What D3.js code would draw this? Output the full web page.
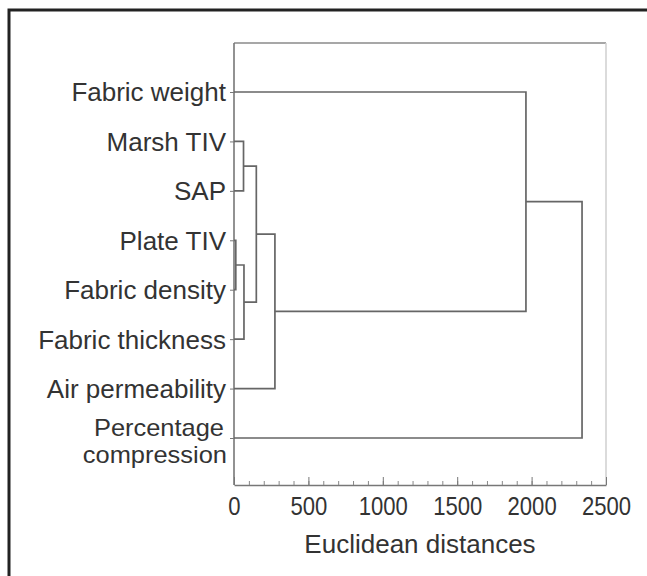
<!DOCTYPE html>
<html>
<head>
<meta charset="utf-8">
<script src="https://cdn.jsdelivr.net/npm/d3@7"></script>
<style>
  html, body { margin: 0; padding: 0; background: #fff; }
  svg { display: block; font-family: "Liberation Sans", Arial, sans-serif; }
</style>
</head>
<body>
<script>
// leaves, top to bottom
const labels = ["Fabric weight", "Marsh TIV", "SAP", "Plate TIV", "Fabric density",
                "Fabric thickness", "Air permeability", "Percentage compression"];

// linkage: merge k creates node 8 + k from mergeLeft[k] and mergeRight[k]
const mergeLeft   = [3, 1, 8, 9, 11, 0, 13];
const mergeRight  = [4, 2, 5, 10, 6, 12, 7];
const mergeHeight = [12, 64, 67, 150, 275, 1962, 2339];

const tickValues = [0, 500, 1000, 1500, 2000, 2500];
const axisTitle = "Euclidean distances";

const width = 647, height = 576;
const margin = {left: 234, right: 41, top: 43, bottom: 91};

const svg = d3.select("body").append("svg")
    .attr("width", width)
    .attr("height", height);

// outer frame (cropped on right and bottom)
svg.append("rect")
    .attr("x", 9).attr("y", 10)
    .attr("width", 800).attr("height", 800)
    .attr("fill", "none")
    .attr("stroke", "#222")
    .attr("stroke-width", 3);

const x = d3.scaleLinear()
    .domain([0, 2500])
    .range([margin.left, width - margin.right]);

const y = d3.scalePoint()
    .domain(d3.range(labels.length))
    .range([92, 438]);

// node positions
const nodes = labels.map((l, i) => ({h: 0, y: y(i)}));
mergeLeft.forEach((a, k) => {
  const b = mergeRight[k];
  nodes.push({h: mergeHeight[k], y: (nodes[a].y + nodes[b].y) / 2, a, b});
});

const plotTop = margin.top, plotBottom = height - margin.bottom;

// plot box top and right
svg.append("line")
    .attr("x1", x(0)).attr("x2", x(2500))
    .attr("y1", plotTop).attr("y2", plotTop)
    .attr("stroke", "#8a8a8a").attr("stroke-width", 1.5);
svg.append("line")
    .attr("x1", x(2500)).attr("x2", x(2500))
    .attr("y1", plotTop).attr("y2", plotBottom)
    .attr("stroke", "#cfcfcf").attr("stroke-width", 1.5);

// left axis
const yAxis = svg.append("g")
    .attr("transform", `translate(${x(0)},0)`)
    .call(d3.axisLeft(y).tickFormat("").tickSizeInner(4).tickSizeOuter(0));
yAxis.select(".domain").remove();
yAxis.selectAll("line").attr("stroke", "#777");
svg.append("line")
    .attr("x1", x(0)).attr("x2", x(0))
    .attr("y1", plotTop).attr("y2", plotBottom)
    .attr("stroke", "#777").attr("stroke-width", 1.6);

// bottom axis: minor then major ticks
const minor = svg.append("g")
    .attr("transform", `translate(0,${plotBottom})`)
    .call(d3.axisBottom(x).tickValues(d3.range(0, 2501, 100)).tickFormat("")
        .tickSizeInner(-4).tickSizeOuter(0));
minor.selectAll("line").attr("stroke", "#888");
minor.select(".domain").attr("stroke", "#777").attr("stroke-width", 1.6);

const major = svg.append("g")
    .attr("transform", `translate(0,${plotBottom})`)
    .call(d3.axisBottom(x).tickValues(tickValues).tickFormat(d3.format("d"))
        .tickSizeInner(-8).tickSizeOuter(0).tickPadding(12));
major.select(".domain").remove();
major.selectAll("line").attr("stroke", "#777");
major.selectAll("text")
    .attr("font-size", 26)
    .attr("font-family", "Liberation Sans, Arial, sans-serif")
    .attr("fill", "#333")
    .attr("transform", "scale(0.85,1)");

svg.append("text")
    .attr("x", (x(0) + x(2500)) / 2)
    .attr("y", 553)
    .attr("text-anchor", "middle")
    .attr("font-size", 26)
    .attr("fill", "#333")
    .text(axisTitle);

// leaf labels
labels.forEach((l, i) => {
  if (l === "Percentage compression") {
    svg.append("text")
        .attr("x", x(0) - 10).attr("y", y(i) - 2)
        .attr("text-anchor", "end").attr("font-size", 24).attr("fill", "#333")
        .attr("transform", `translate(${x(0) - 10},0) scale(1.06,1) translate(${-(x(0) - 10)},0)`)
        .text("Percentage");
    svg.append("text")
        .attr("x", x(0) - 7).attr("y", y(i) + 25)
        .attr("text-anchor", "end").attr("font-size", 24).attr("fill", "#333")
        .attr("transform", `translate(${x(0) - 7},0) scale(1.06,1) translate(${-(x(0) - 7)},0)`)
        .text("compression");
  } else {
    svg.append("text")
        .attr("x", x(0) - 8).attr("y", y(i)).attr("dy", "0.36em")
        .attr("text-anchor", "end").attr("font-size", 26).attr("fill", "#333")
        .text(l);
  }
});

// dendrogram links
svg.append("g")
    .attr("fill", "none")
    .attr("stroke", "#666")
    .attr("stroke-width", 1.7)
    .selectAll("path")
    .data(nodes.filter(n => n.a !== undefined))
    .join("path")
    .attr("d", n => {
      const A = nodes[n.a], B = nodes[n.b];
      return `M${x(A.h)},${A.y}H${x(n.h)}V${B.y}H${x(B.h)}`;
    });
</script>
</body>
</html>
